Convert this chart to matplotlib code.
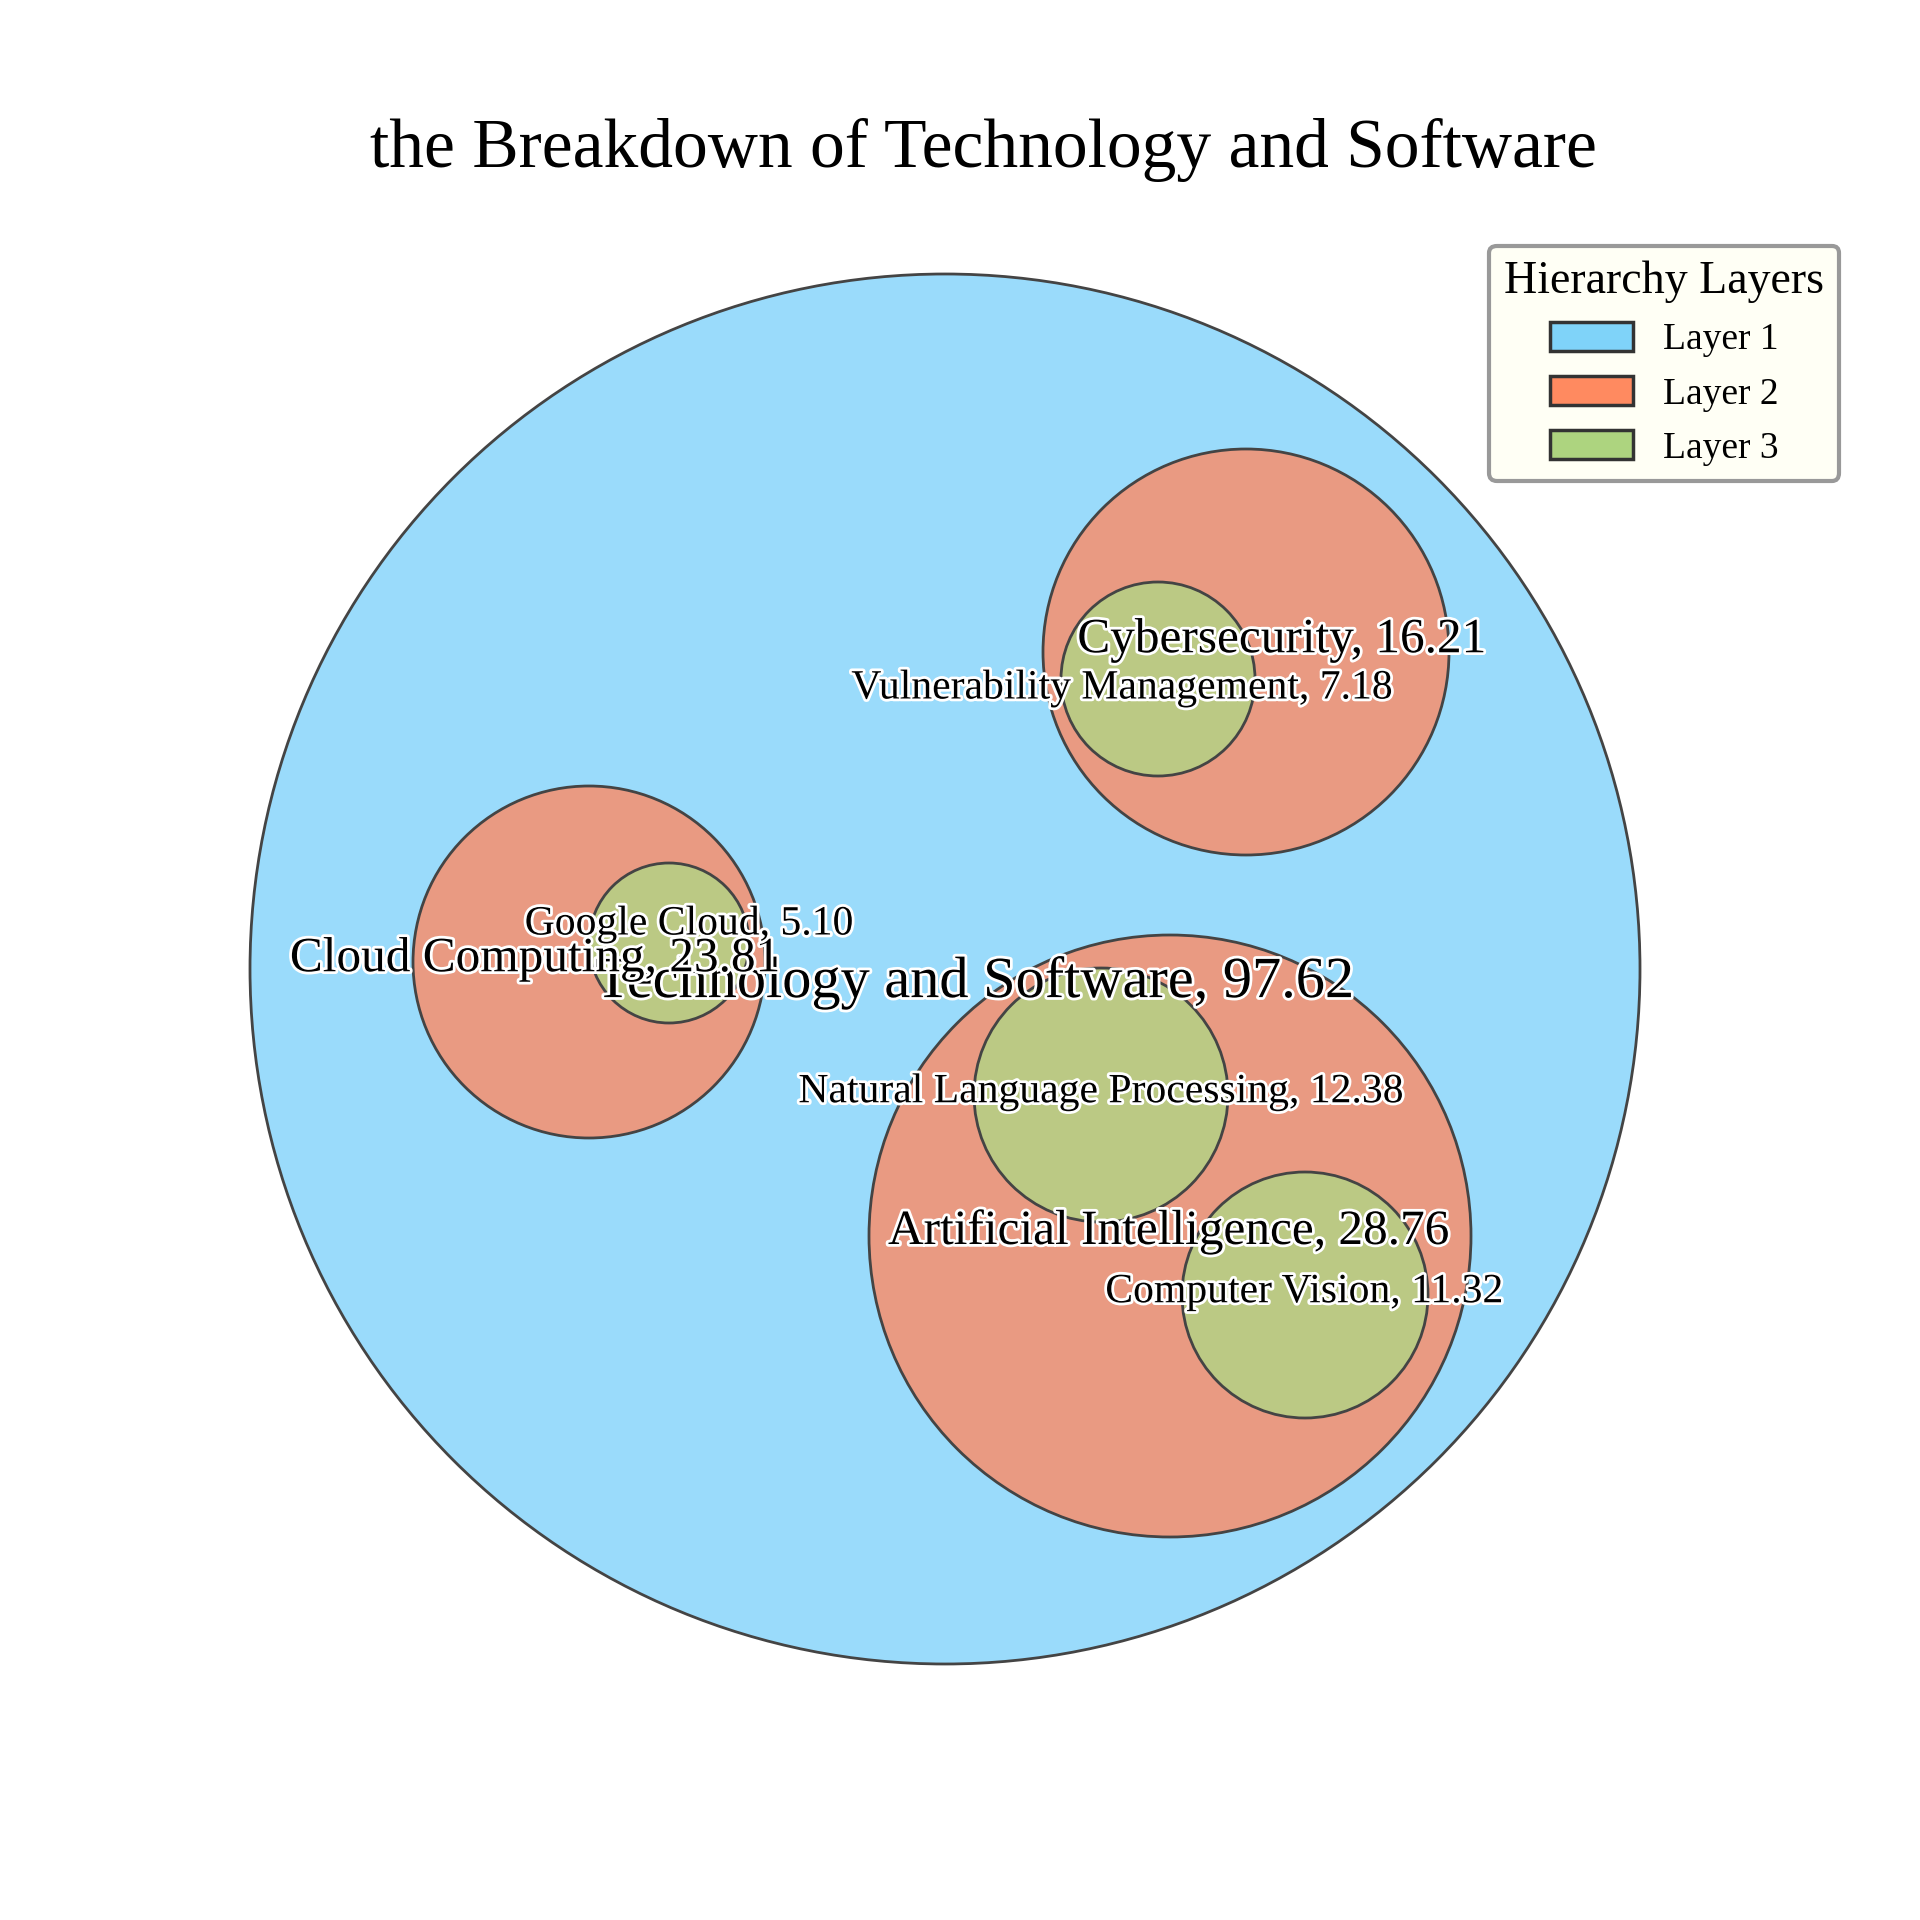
import matplotlib
matplotlib.use('Agg')
import matplotlib.pyplot as plt
import matplotlib.patheffects as pe
from matplotlib.patches import Circle, Patch

plt.rcParams['font.family'] = ['Liberation Serif', 'DejaVu Serif']

# data
names = ['Technology and Software', 'Cybersecurity', 'Vulnerability Management',
         'Cloud Computing', 'Google Cloud', 'Artificial Intelligence',
         'Natural Language Processing', 'Computer Vision']
values = [97.62, 16.21, 7.18, 23.81, 5.10, 28.76, 12.38, 11.32]
layers = [1, 2, 3, 2, 3, 2, 3, 3]
layer_names = ['Layer 1', 'Layer 2', 'Layer 3']

# layout (pixel space of the 1920x1920 canvas)
circle_xy = [(945, 969), (1246, 652), (1158, 679), (589, 962), (669, 943),
             (1170, 1236), (1101, 1095), (1305, 1295)]
circle_r = [695, 203, 97, 176, 80, 301, 127, 123]
label_xy = [(975, 983), (1282, 640), (1122, 688), (535, 959), (689, 924),
            (1169, 1232), (1101, 1092), (1304, 1292)]

fill_colors = {1: '#9ADBFB', 2: '#E99A82', 3: '#BBC984'}
legend_colors = {1: '#7FD3F9', 2: '#FF8A60', 3: '#ADD47F'}
font_sizes = {1: 42, 2: 35.5, 3: 30}

fig = plt.figure(figsize=(19.2, 19.2), dpi=100)
ax = fig.add_axes([0, 0, 1, 1])
ax.set_xlim(0, 1920)
ax.set_ylim(1920, 0)
ax.set_aspect('equal')
ax.axis('off')

for (x, y), r, lay in zip(circle_xy, circle_r, layers):
    ax.add_patch(Circle((x, y), r, facecolor=fill_colors[lay], edgecolor='#444444',
                        linewidth=2, zorder=lay))

for (x, y), n, v, lay in zip(label_xy, names, values, layers):
    ax.text(x, y, f'{n}, {v:.2f}', ha='center', va='center', fontsize=font_sizes[lay],
            zorder=10, path_effects=[pe.withStroke(linewidth=4, foreground='white')])

ax.text(983, 150, 'the Breakdown of Technology and Software', ha='center', va='center',
        fontsize=50)

handles = [Patch(facecolor=legend_colors[i + 1], edgecolor='#333333', linewidth=2.5,
                 label=layer_names[i]) for i in range(3)]
leg = ax.legend(handles=handles, title='Hierarchy Layers', loc='upper right',
                bbox_to_anchor=(0.958, 0.872), borderaxespad=0, fontsize=27,
                title_fontsize=33, frameon=True, fancybox=True, facecolor='#FFFFF5',
                edgecolor='#999999', handlelength=2.2, handleheight=0.8)
leg.get_frame().set_linewidth(3)
leg.get_frame().set_alpha(1)

fig.savefig('out.png', dpi=100)
